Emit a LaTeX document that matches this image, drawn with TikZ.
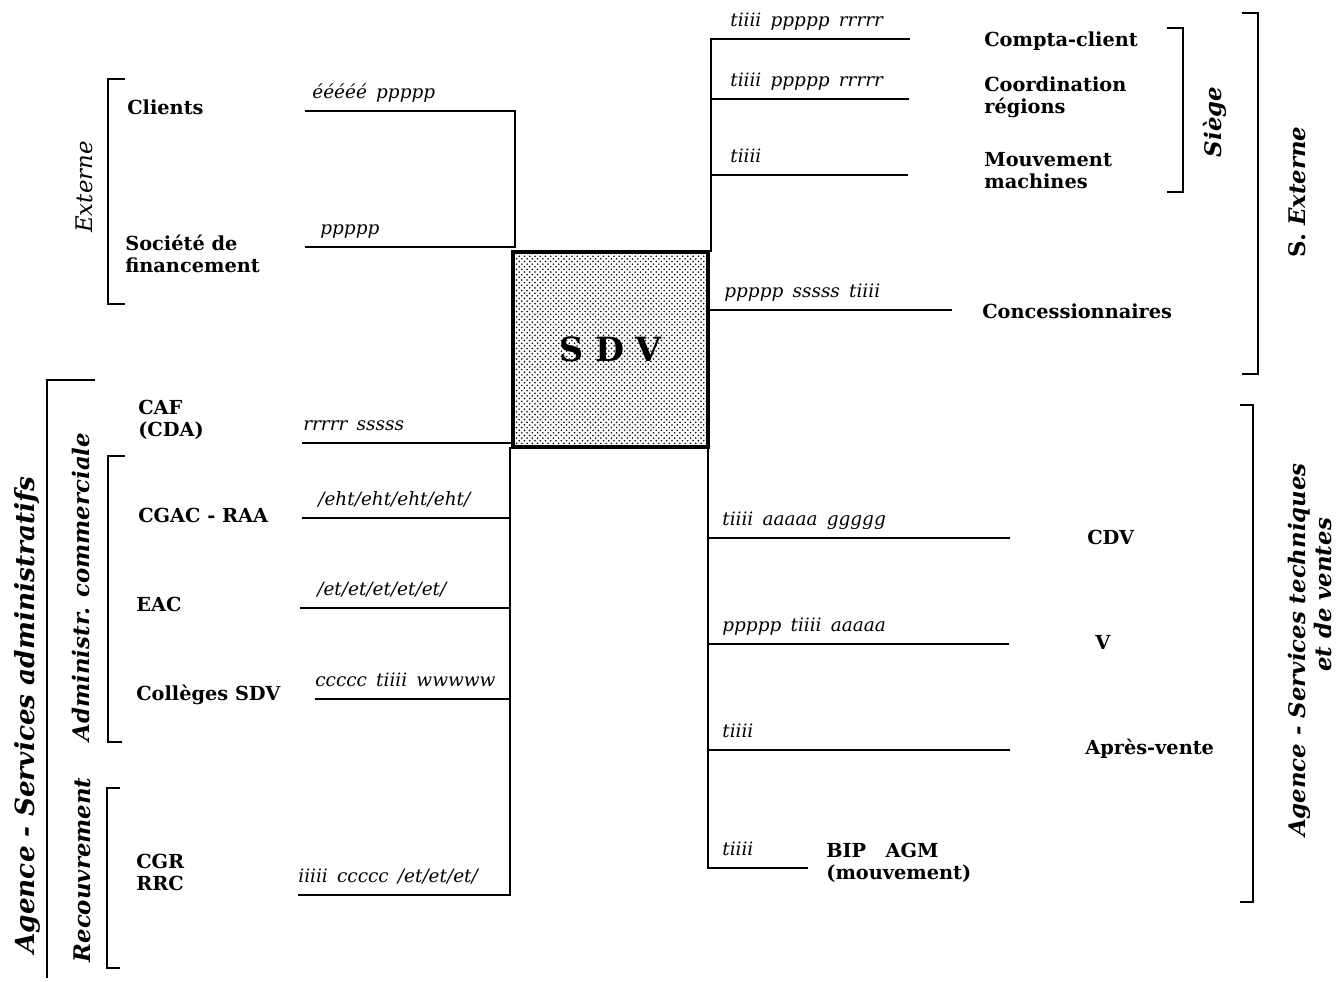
\documentclass[tikz,border=0pt]{standalone}
\usepackage{fontspec}
\setmainfont{DejaVu Serif}
\usetikzlibrary{positioning,patterns}

\begin{document}
\begin{tikzpicture}[
    x=0.02cm, y=-0.02cm,
    unit/.style={font=\fontsize{11}{12.5}\selectfont\bfseries, align=left, anchor=west, inner sep=0pt},
    flux/.style={font=\fontsize{10.5}{12}\selectfont\itshape, anchor=base west, inner sep=0pt},
    group/.style={font=\fontsize{13}{15}\selectfont\bfseries\itshape, rotate=90, align=center, inner sep=0pt},
    wire/.style={line width=1pt},
    bracket/.style={line width=1pt},
    sdvbox/.style={draw, line width=1.8pt, fill=black!12, pattern=crosshatch dots, pattern color=black,
        minimum width=3.9cm, minimum height=3.9cm},
]
\useasboundingbox (0,0) rectangle (1336,981);

% centre
\node[sdvbox] (sdv) at (610.5,349.5) {};
\node[font=\fontsize{19}{22}\selectfont\bfseries] (sdv-t) at (sdv.center) {S\hspace{0.35em}D\hspace{0.35em}V};

% line ends: name/left/right/y
\foreach \n/\xa/\xb/\y in {cl/305/515/111, so/305/515/247, ca/302/513/443, cg/302/510/518,
    ea/300/510/608, co/315/510/699, cr/298/510/895,
    ta/711/910/39, tb/711/909/99, tc/711/908/175, cn/708/952/310,
    cd/708/1010/538, vv/708/1009/644, av/708/1010/750, bi/708/808/868}
  {\coordinate (\n-w) at (\xa,\y); \coordinate (\n-e) at (\xb,\y);}
\coordinate (lbus) at (510,447);
\coordinate (rtop) at (711,252);
\coordinate (rbus) at (708,447);

% connectors
\draw[wire] (cl-w) -| (so-e) -- (so-w);
\draw[wire] (ca-w) -- (ca-e);
\draw[wire] (lbus) |- (cr-w);
\draw[wire] (cg-w) -- (cg-e);
\draw[wire] (ea-w) -- (ea-e);
\draw[wire] (co-w) -- (co-e);
\draw[wire] (ta-e) -| (rtop);
\draw[wire] (tb-w) -- (tb-e);
\draw[wire] (tc-w) -- (tc-e);
\draw[wire] (cn-w) -- (cn-e);
\draw[wire] (rbus) |- (bi-e);
\draw[wire] (cd-w) -- (cd-e);
\draw[wire] (vv-w) -- (vv-e);
\draw[wire] (av-w) -- (av-e);

% flux labels
\node[flux] (f-cl) at (312,98) {ééééé\hspace{0.5em}ppppp};
\node[flux] (f-so) at (320,234) {ppppp};
\node[flux] (f-ca) at (303,430) {rrrrr\hspace{0.5em}sssss};
\node[flux] (f-cg) at (318,505) {/eht/eht/eht/eht/};
\node[flux] (f-ea) at (317,595) {/et/et/et/et/et/};
\node[flux] (f-co) at (315,686) {ccccc\hspace{0.5em}tiiii\hspace{0.5em}wwwww};
\node[flux] (f-cr) at (298,882) {iiiii\hspace{0.5em}ccccc\hspace{0.5em}/et/et/et/};
\node[flux] (f-ta) at (730,26) {tiiii\hspace{0.5em}ppppp\hspace{0.5em}rrrrr};
\node[flux] (f-tb) at (730,86) {tiiii\hspace{0.5em}ppppp\hspace{0.5em}rrrrr};
\node[flux] (f-tc) at (730,162) {tiiii};
\node[flux] (f-cn) at (724,297) {ppppp\hspace{0.5em}sssss\hspace{0.5em}tiiii};
\node[flux] (f-cd) at (722,525) {tiiii\hspace{0.5em}aaaaa\hspace{0.5em}ggggg};
\node[flux] (f-vv) at (722,631) {ppppp\hspace{0.5em}tiiii\hspace{0.5em}aaaaa};
\node[flux] (f-av) at (722,737) {tiiii};
\node[flux] (f-bi) at (722,855) {tiiii};

% units
\node[unit] (clients) at (127,107) {Clients};
\node[unit] (soc) at (125,254) {Société de\\financement};
\node[unit] (caf) at (138,420) {CAF\\(CDA)};
\node[unit] (cgac) at (138,515) {CGAC - RAA};
\node[unit] (eac) at (136,604) {EAC};
\node[unit] (col) at (136,695) {Collèges SDV};
\node[unit] (cgr) at (136,872) {CGR\\RRC};
\node[unit] (compta) at (984,41) {Compta-client};
\node[unit] (coord) at (984,97) {Coordination\\régions};
\node[unit] (mouv) at (984,171) {Mouvement\\machines};
\node[unit] (conc) at (982,311) {Concessionnaires};
\node[unit] (cdv) at (1087,537) {CDV};
\node[unit] (vente) at (1095,642) {V};
\node[unit] (apv) at (1085,749) {Après-vente};
\node[unit] (bip) at (826,863) {BIP\hspace{1em}AGM\\(mouvement)};

% brackets
\draw[bracket] (125,79) -- (108,79) -- (108,304) -- (125,304);
\draw[bracket] (95,380) -- (47,380) -- (47,978);
\draw[bracket] (125,456) -- (108,456) -- (108,742) -- (122,742);
\draw[bracket] (120,788) -- (107,788) -- (107,968) -- (120,968);
\draw[bracket] (1167,28) -- (1183,28) -- (1183,192) -- (1167,192);
\draw[bracket] (1242,13) -- (1258,13) -- (1258,374) -- (1242,374);
\draw[bracket] (1240,405) -- (1253,405) -- (1253,902) -- (1240,902);

% groups
\node[group, font=\fontsize{13}{15}\selectfont\itshape] (g-ext) at (84,187) {Externe};
\node[group, font=\fontsize{15}{17}\selectfont\bfseries\itshape] (g-adm) at (27,715) {Agence - Services administratifs};
\node[group] (g-com) at (81,587) {Administr. commerciale};
\node[group] (g-rec) at (82,870) {Recouvrement};
\node[group] (g-sie) at (1215,122) {Siège};
\node[group] (g-sex) at (1297,192) {\textup{S.} Externe};
\node[group] (g-tec) at (1310,650) {Agence - Services techniques\\\hspace*{2.2cm}et de ventes};
\end{tikzpicture}
\end{document}
